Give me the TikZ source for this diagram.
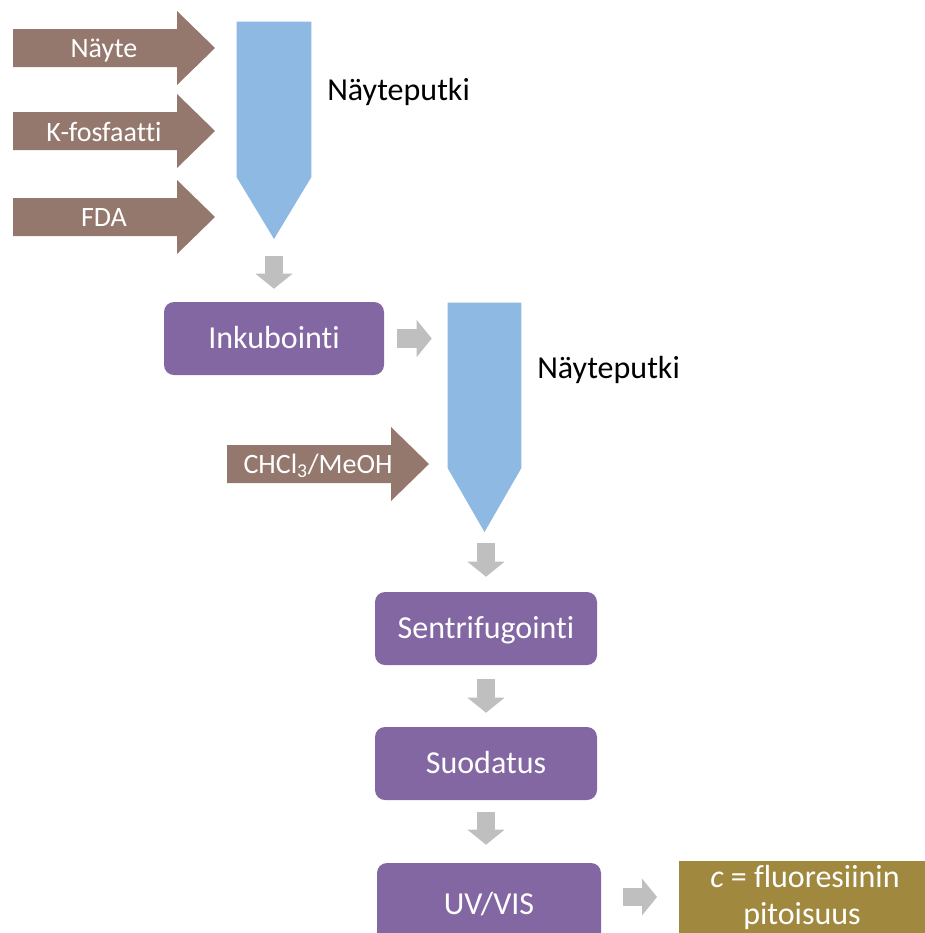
\documentclass[tikz,border=0pt]{standalone}
\usepackage{fontspec}
\setmainfont{Carlito}[Ligatures={NoCommon,NoContextual}]
\usetikzlibrary{arrows.meta,calc}

\definecolor{tubeblue}{HTML}{8EB9E2}
\definecolor{reagentbrown}{HTML}{94776D}
\definecolor{stepviolet}{HTML}{8267A3}
\definecolor{resultgold}{HTML}{A0883F}
\definecolor{flowgray}{HTML}{BFBFBF}

% brown block arrow for an added reagent: start x, tip x, centre y
\newcommand\reagentarrow[3]{%
  \fill[reagent] (#1,#3-19) -- (#2-38,#3-19) -- (#2-38,#3-37) -- (#2,#3)
    -- (#2-38,#3+37) -- (#2-38,#3+19) -- (#1,#3+19) -- cycle;}

\begin{document}
\begin{tikzpicture}[x=0.75pt, y=-0.75pt,
  stepbox/.style={fill=stepviolet, rounded corners=7.5pt, inner sep=0pt,
    text=white, font=\fontsize{24}{29}\selectfont,
    text height=15.2pt, text depth=0pt},
  goldbox/.style={fill=resultgold, inner sep=0pt},
  goldtext/.style={anchor=base, inner sep=0pt, text=white,
    font=\fontsize{24}{29}\selectfont},
  tubebody/.style={inner sep=0pt},
  reagent/.style={fill=reagentbrown},
  reagenttext/.style={anchor=base, inner sep=0pt, text=white,
    font=\fontsize{21}{25}\selectfont},
  tubelabel/.style={anchor=base west, inner sep=0pt,
    font=\fontsize{24}{29}\selectfont},
  flow/.style={draw=flowgray, line width=14pt,
    -{Triangle[length=11.25pt, width=27.75pt, line width=0pt]}},
]
\useasboundingbox (0,0) rectangle (925,933);
\clip (0,0) rectangle (925,933);

% first sample tube with its three additions
\node[tubebody, minimum width=55.5pt, minimum height=116.25pt] (t1) at (274,99.5) {};
\coordinate (t1tip) at (274,239);
\fill[tubeblue] (t1.north west) -- (t1.north east) -- (t1.south east)
  -- (t1tip) -- (t1.south west) -- cycle;
\node[tubelabel] (lab1) at (327,100) {Näyteputki};

\reagentarrow{13}{215}{48}
\reagentarrow{13}{215}{131}
\reagentarrow{13}{215}{217}
\node[reagenttext] (nayte) at (104,57) {Näyte};
\node[reagenttext] (kfos) at (104,141.5) {K-fosfaatti};
\node[reagenttext] (fda) at (104,226) {FDA};

% incubation
\node[stepbox, minimum width=165pt, minimum height=54.75pt] (inc) at (274,338.5) {Inkubointi};

% second sample tube with the solvent
\node[tubebody, minimum width=54.75pt, minimum height=123.75pt] (t2) at (484.5,385.5) {};
\coordinate (t2tip) at (484.5,532);
\fill[tubeblue] (t2.north west) -- (t2.north east) -- (t2.south east)
  -- (t2tip) -- (t2.south west) -- cycle;
\node[tubelabel] (lab2) at (537,378) {Näyteputki};

\reagentarrow{227}{429}{464}
\node[reagenttext] (chcl) at (318,473) {CHCl\textsubscript{3}/MeOH};

% work-up steps
\node[stepbox, minimum width=166.5pt, minimum height=54.75pt] (sent) at (486,628.5) {Sentrifugointi};
\node[stepbox, minimum width=166.5pt, minimum height=54.75pt] (suod) at (486,763.5) {Suodatus};
\node[stepbox, minimum width=168pt, minimum height=61.5pt] (uv) at (489,904) {UV/VIS};

% result
\node[goldbox, anchor=north west, minimum width=189pt, minimum height=67.5pt] (gold) at (679,861) {};
\node[goldtext] (res1) at (805,887) {\textit{c} = fluoresiinin};
\node[goldtext] (res2) at (802,924) {pitoisuus};

% process flow
\draw[flow, shorten <=12.75pt, shorten >=9.75pt] (t1tip) -- (inc.north);
\draw[flow, shorten <=9.75pt, shorten >=12pt] (inc.east) -- (inc.east -| t2.west);
\draw[flow, shorten <=8.25pt, shorten >=11.25pt] (t2tip -| sent.north) -- (sent.north);
\draw[flow, shorten <=10.5pt, shorten >=10.5pt] (sent.south) -- (suod.north);
\draw[flow, shorten <=9pt, shorten >=13.5pt] (suod.south) -- (suod.south |- uv.north);
\draw[flow, shorten <=16.5pt, shorten >=16.5pt] ($(uv.east)+(0,-7)$) -- ($(uv.east -| gold.west)+(0,-7)$);
\end{tikzpicture}
\end{document}
